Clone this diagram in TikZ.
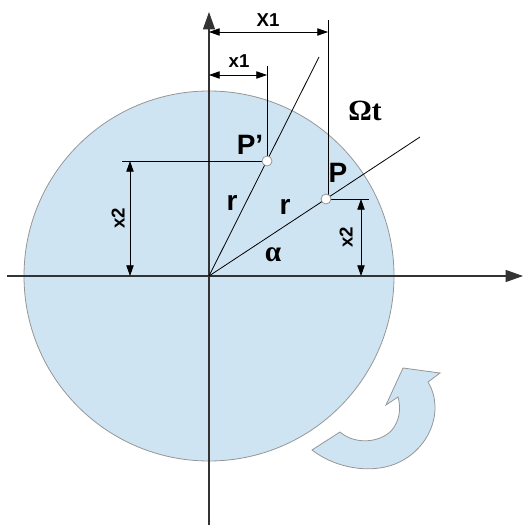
\documentclass[tikz,border=0pt]{standalone}
\usepackage{fontspec}
\setmainfont{Liberation Sans}
\newfontfamily\serifont{Liberation Serif}
\usetikzlibrary{arrows.meta}
\definecolor{discblue}{RGB}{207,228,242}
\definecolor{edgegrey}{RGB}{150,150,150}
\tikzset{
  axisline/.style={draw=black!80, line width=0.8pt, -{Triangle[length=13pt,width=9pt]}},
  thinline/.style={draw=black, line width=0.6pt},
  dimline/.style={draw=black, line width=0.6pt, {Triangle[length=8pt,width=5.5pt]}-{Triangle[length=8pt,width=5.5pt]}},
  ptmark/.style={circle, draw=edgegrey, fill=white, line width=0.6pt, minimum size=7.5pt, inner sep=0pt},
  lbl/.style={font=\bfseries\fontsize{14}{14}\selectfont, inner sep=0pt},
  biglbl/.style={font=\bfseries\fontsize{21}{21}\selectfont, inner sep=0pt},
  greek/.style={font=\serifont\bfseries\fontsize{22}{22}\selectfont, inner sep=0pt}
}
\begin{document}
\begin{tikzpicture}[x=0.75pt,y=-0.75pt]
\useasboundingbox (0,0) rectangle (524,527);
% disc
\fill[discblue, draw=edgegrey, line width=0.6pt] (209,276) circle [radius=138.75pt];
% rotation arrow
\filldraw[fill=discblue, draw=edgegrey, line width=0.6pt]
  (403,368) -- (440,373) -- (428,382)
  .. controls (445,410) and (430,450) .. (395,464)
  .. controls (370,474) and (335,468) .. (312,450)
  -- (340,432)
  .. controls (355,445) and (380,443) .. (392,430)
  .. controls (400,420) and (401,408) .. (398,397)
  -- (386,405) -- cycle;
% coordinates
\coordinate (O) at (209,276);
\coordinate (xs) at (7,276);
\coordinate (xe) at (523,276);
\coordinate (ys) at (209,525);
\coordinate (ye) at (209,12);
\coordinate (P) at (326,199);
\coordinate (Pp) at (267,161);
\coordinate (Pend) at (420,137);
\coordinate (Ppend) at (319,57);
% axes
\draw[axisline] (xs) -- (xe);
\draw[axisline] (ys) -- (ye);
% radius lines
\draw[thinline] (O) -- (Pend);
\draw[thinline] (O) -- (Ppend);
% extension lines
\coordinate (X1top) at (328,20);
\coordinate (X1foot) at (328,199);
\coordinate (x1top) at (267,66);
\coordinate (Lext) at (122,161);
\coordinate (Rext) at (369,199);
\draw[thinline] (X1top) -- (X1foot);
\draw[thinline] (x1top) -- (Pp);
\draw[thinline] (Lext) -- (Pp);
\draw[thinline] (P) -- (Rext);
% dimension arrows
\coordinate (X1a) at (209,32);
\coordinate (X1b) at (328,32);
\coordinate (x1a) at (209,75);
\coordinate (x1b) at (267,75);
\coordinate (x2La) at (130,161);
\coordinate (x2Lb) at (130,276);
\coordinate (x2Ra) at (361,199);
\coordinate (x2Rb) at (361,276);
\draw[dimline] (X1a) -- (X1b);
\draw[dimline] (x1a) -- (x1b);
\draw[dimline] (x2La) -- (x2Lb);
\draw[dimline] (x2Ra) -- (x2Rb);
% point marks
\node[ptmark] (Pmark) at (P) {};
\node[ptmark] (Ppmark) at (Pp) {};
% labels
\node[lbl] (lX1) at (268,20) {X1};
\node[lbl] (lx1) at (239,61) {x1};
\node[biglbl] (lPp) at (250,145) {P'};
\node[biglbl] (lP) at (338,173) {P};
\node[biglbl] (lr1) at (232,203) {r};
\node[biglbl] (lr2) at (285,207) {r};
\node[greek] (lalpha) at (273,255) {α};
\node[greek] (lOmega) at (365,111) {Ωt};
\node[lbl, rotate=90] (lx2L) at (118,218) {x2};
\node[lbl, rotate=90] (lx2R) at (346,237) {x2};
\end{tikzpicture}
\end{document}
